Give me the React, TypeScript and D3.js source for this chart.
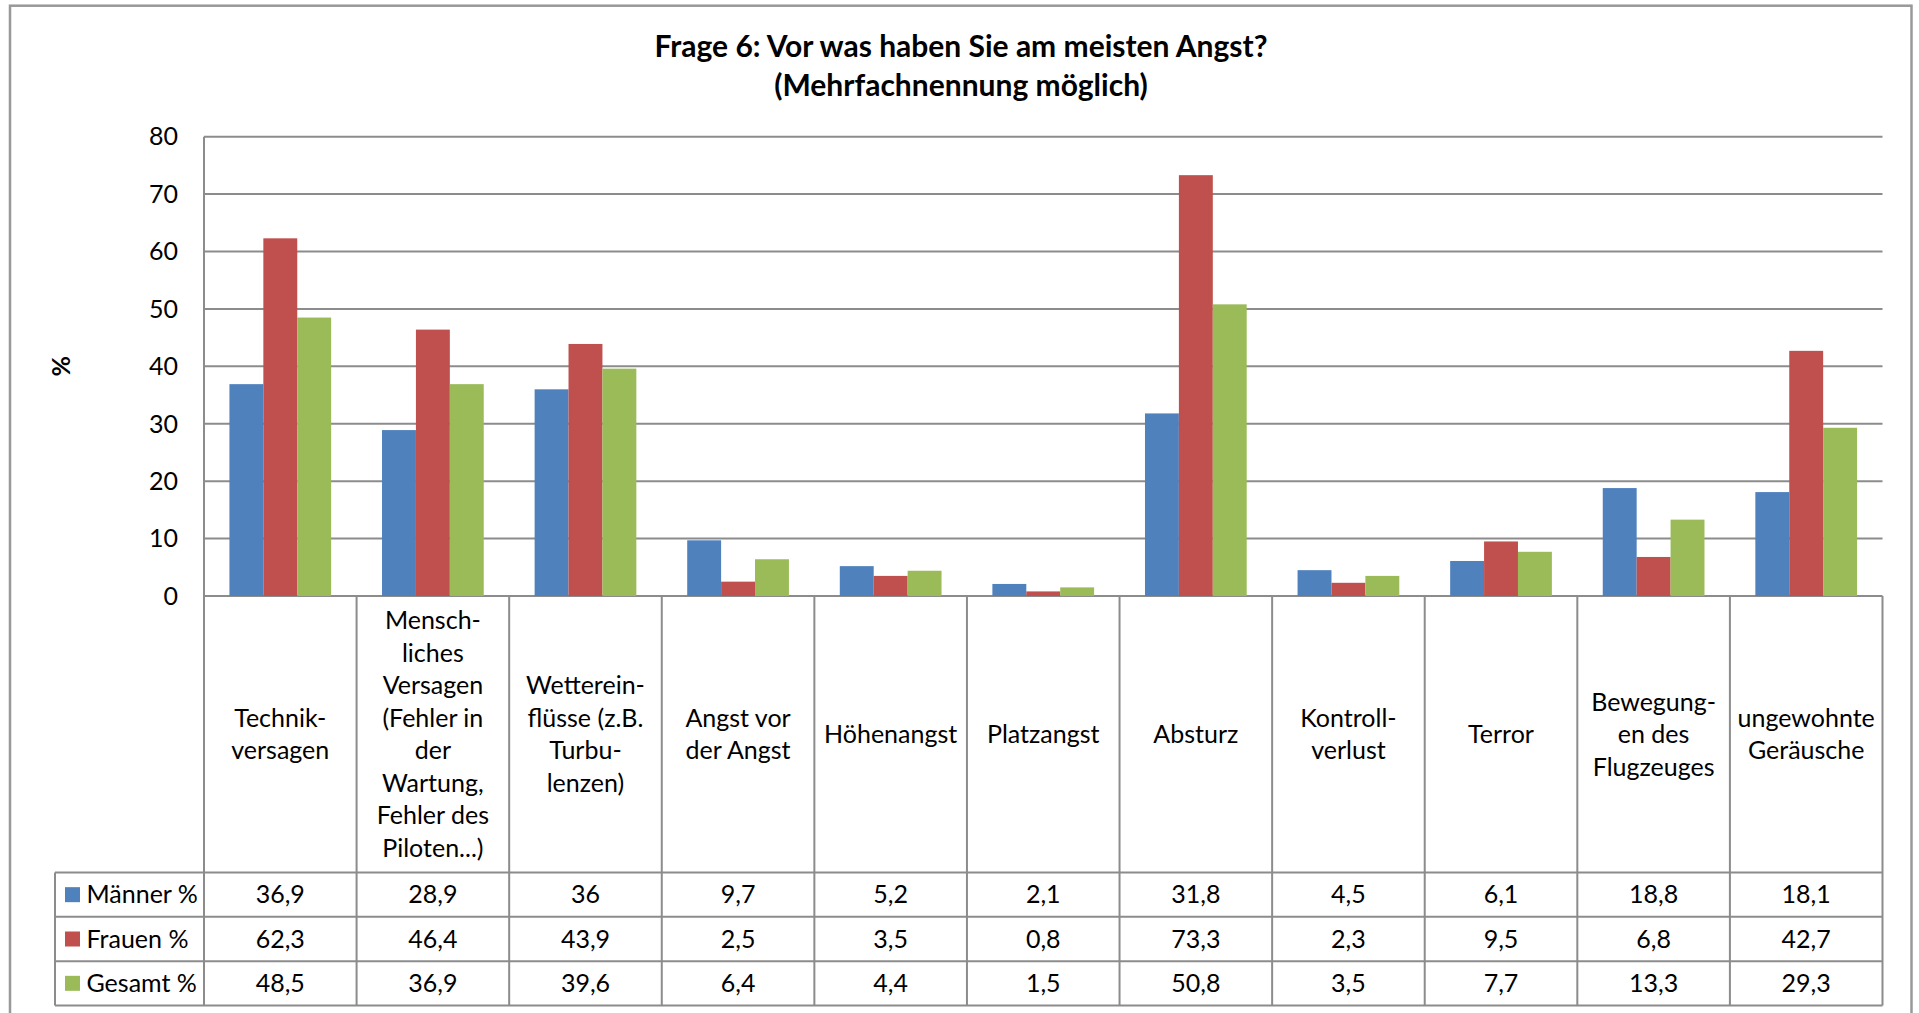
import React from "react";
import * as d3 from "d3";

// Kategorien (Zeilenumbrüche wie im Original)
const categories = [
  "Technikversagen",
  "Menschliches Versagen",
  "Wettereinflüsse",
  "Angst vor der Angst",
  "Höhenangst",
  "Platzangst",
  "Absturz",
  "Kontrollverlust",
  "Terror",
  "Bewegungen des Flugzeuges",
  "ungewohnte Geräusche",
];
const categoryLines = [
  ["Technik-", "versagen"],
  ["Mensch-", "liches", "Versagen", "(Fehler in", "der", "Wartung,", "Fehler des", "Piloten...)"],
  ["Wetterein-", "flüsse (z.B.", "Turbu-", "lenzen)"],
  ["Angst vor", "der Angst"],
  ["Höhenangst"],
  ["Platzangst"],
  ["Absturz"],
  ["Kontroll-", "verlust"],
  ["Terror"],
  ["Bewegung-", "en des", "Flugzeuges"],
  ["ungewohnte", "Geräusche"],
];

const maenner = [36.9, 28.9, 36, 9.7, 5.2, 2.1, 31.8, 4.5, 6.1, 18.8, 18.1];
const frauen = [62.3, 46.4, 43.9, 2.5, 3.5, 0.8, 73.3, 2.3, 9.5, 6.8, 42.7];
const gesamt = [48.5, 36.9, 39.6, 6.4, 4.4, 1.5, 50.8, 3.5, 7.7, 13.3, 29.3];

const seriesNames = ["Männer %", "Frauen %", "Gesamt %"];
const seriesColors = ["#4F81BD", "#C0504D", "#9BBB59"];
const yTicks = [0, 10, 20, 30, 40, 50, 60, 70, 80];

const W = 1919;
const H = 1013;
const FONT = "Lato, 'Open Sans', sans-serif";
const FS = 25;
const LINE = "#8c8c8c";

export default function App() {
  const series = [maenner, frauen, gesamt];

  const plotLeft = 204;
  const plotRight = 1882.5;
  const yTop = 136.7;
  const y0 = 596;
  const labelBottom = 872.5;
  const tableBottom = 1005.5;
  const tableLeft = 55;
  const rowH = (tableBottom - labelBottom) / 3;

  const x0 = d3.scaleBand<string>().domain(categories).range([plotLeft, plotRight]).padding(0);
  const x1 = d3
    .scaleBand<string>()
    .domain(seriesNames)
    .range([0, x0.bandwidth()])
    .paddingInner(0)
    .paddingOuter(0.75);
  const y = d3.scaleLinear().domain([0, 80]).range([y0, yTop]);

  const fmt = (v: number) => String(v).replace(".", ",");
  const labelMid = (y0 + labelBottom) / 2;
  const lineH = 32.5;

  return (
    <div style={{ position: "absolute", left: 0, top: 0 }}>
      <svg width={W} height={H} style={{ display: "block", background: "#fff" }} fontFamily={FONT}>
        {/* Rahmen */}
        <rect x={10} y={5.7} width={1901.5} height={1040} fill="none" stroke="#999" strokeWidth={2.5} />

        {/* Titel */}
        <text x={961} y={56.5} textAnchor="middle" fontSize={30} fontWeight="bold" fill="#000">
          Frage 6: Vor was haben Sie am meisten Angst?
        </text>
        <text x={961} y={95.5} textAnchor="middle" fontSize={30} fontWeight="bold" fill="#000">
          (Mehrfachnennung möglich)
        </text>

        {/* Gitterlinien */}
        {yTicks.map((t) => (
          <g key={t}>
            <line x1={plotLeft} x2={plotRight} y1={y(t)} y2={y(t)} stroke={LINE} strokeWidth={2} />
            <text x={178} y={y(t)} dy="0.35em" textAnchor="end" fontSize={FS} fill="#000">
              {t}
            </text>
          </g>
        ))}

        {/* y-Achsentitel */}
        <text
          transform={`translate(61,${(yTop + y0) / 2}) rotate(-90)`}
          textAnchor="middle"
          dy="0.35em"
          fontSize={FS}
          fontWeight="bold"
        >
          %
        </text>

        {/* Balken */}
        {categories.map((c, i) => (
          <g key={c} transform={`translate(${x0(c)},0)`}>
            {series.map((s, j) => (
              <rect
                key={j}
                x={x1(seriesNames[j])}
                y={y(s[i])}
                width={x1.bandwidth()}
                height={y0 - y(s[i])}
                fill={seriesColors[j]}
              />
            ))}
          </g>
        ))}

        {/* Kategorienbeschriftung */}
        {categories.map((c, i) => {
          const lines = categoryLines[i];
          const cx = (x0(c) as number) + x0.bandwidth() / 2;
          return (
            <text key={c} textAnchor="middle" fontSize={FS} fill="#000">
              {lines.map((l, k) => (
                <tspan key={k} x={cx} y={labelMid + (k - (lines.length - 1) / 2) * lineH} dy="0.35em">
                  {l}
                </tspan>
              ))}
            </text>
          );
        })}

        {/* Datentabelle */}
        {seriesNames.map((name, j) => {
          const ry = labelBottom + j * rowH;
          return (
            <g key={name}>
              <rect x={65} y={ry + rowH / 2 - 7.5} width={15} height={15} fill={seriesColors[j]} />
              <text x={86.5} y={ry + rowH / 2} dy="0.35em" fontSize={FS} fill="#000">
                {name}
              </text>
              {categories.map((c, i) => (
                <text
                  key={c}
                  x={(x0(c) as number) + x0.bandwidth() / 2}
                  y={ry + rowH / 2}
                  dy="0.35em"
                  textAnchor="middle"
                  fontSize={FS}
                  fill="#000"
                >
                  {fmt(series[j][i])}
                </text>
              ))}
            </g>
          );
        })}

        {/* Tabellenlinien */}
        {[0, 1, 2, 3].map((k) => (
          <line
            key={k}
            x1={tableLeft}
            x2={plotRight}
            y1={labelBottom + k * rowH}
            y2={labelBottom + k * rowH}
            stroke={LINE}
            strokeWidth={2}
          />
        ))}
        <line x1={tableLeft} x2={tableLeft} y1={labelBottom} y2={tableBottom} stroke={LINE} strokeWidth={2} />
        <line x1={plotLeft} x2={plotLeft} y1={yTop} y2={tableBottom} stroke={LINE} strokeWidth={2} />
        {categories.map((c) => (
          <line
            key={c}
            x1={(x0(c) as number) + x0.bandwidth()}
            x2={(x0(c) as number) + x0.bandwidth()}
            y1={y0}
            y2={tableBottom}
            stroke={LINE}
            strokeWidth={2}
          />
        ))}
      </svg>
    </div>
  );
}
